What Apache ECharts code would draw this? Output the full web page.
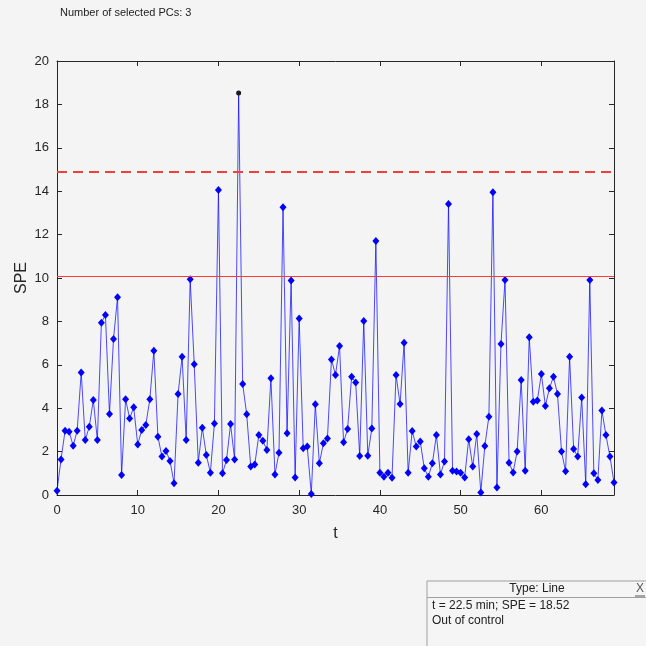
<!DOCTYPE html>
<html>
<head>
<meta charset="utf-8">
<script src="https://cdn.jsdelivr.net/npm/echarts@6/dist/echarts.min.js"></script>
<style>
  html, body { margin: 0; padding: 0; background: #f4f4f4; }
  #main { width: 646px; height: 646px; }
</style>
</head>
<body>
<div id="main"></div>
<script>
// sample spacing in minutes (t = index * step)
var step = 0.5;
var spe = [
    0.2, 1.64, 2.96, 2.92, 2.27, 2.96, 5.65, 2.53, 3.15, 4.38,
    2.53, 7.94, 8.3, 3.73, 7.19, 9.11, 0.92, 4.41, 3.53, 4.04,
    2.33, 3.0, 3.23, 4.41, 6.65, 2.69, 1.77, 2.03, 1.57, 0.54,
    4.65, 6.37, 2.53, 9.94, 6.02, 1.49, 3.1, 1.84, 1.03, 3.3,
    14.06, 1.0, 1.61, 3.27, 1.64, 18.52, 5.12, 3.72, 1.31, 1.40,
    2.76, 2.5, 2.07, 5.38, 0.95, 1.95, 13.26, 2.84, 9.88, 0.81,
    8.13, 2.15, 2.23, 0.05, 4.18, 1.46, 2.38, 2.6, 6.25, 5.53,
    6.87, 2.43, 3.04, 5.45, 5.18, 1.8, 8.02, 1.81, 3.07, 11.7,
    1.03, 0.84, 1.03, 0.8, 5.53, 4.19, 7.02, 1.03, 2.95, 2.23,
    2.46, 1.23, 0.84, 1.46, 2.76, 0.95, 1.54, 13.41, 1.12, 1.08,
    1.03, 0.81, 2.57, 1.31, 2.81, 0.12, 2.26, 3.61, 13.95, 0.34,
    6.96, 9.91, 1.49, 1.04, 2.0, 5.3, 1.12, 7.27, 4.3, 4.35,
    5.58, 4.1, 4.92, 5.45, 4.65, 2.0, 1.1, 6.37, 2.12, 1.77,
    4.49, 0.49, 9.91, 1.0, 0.69, 3.89, 2.76, 1.77, 0.58
];
var limit95 = 10.1;   // solid red
var limit99 = 14.9;   // dashed red
var selectedIndex = 45; // t = 22.5 min
var numPCs = 3;

var font = "'Liberation Sans', Arial, sans-serif";
var axisColor = '#262626';

var data = spe.map(function (v, i) {
    if (i === selectedIndex) {
        return {
            value: [i * step, v],
            symbol: 'circle',
            symbolSize: 5,
            itemStyle: { color: '#1a1a1a' }
        };
    }
    return [i * step, v];
});

// box axis (MATLAB style, ticks pointing inwards)
function boxAxis(extra) {
    var ax = {
        type: 'value',
        axisLine: { show: true, onZero: false, lineStyle: { color: axisColor } },
        axisTick: { show: true, inside: true, length: 5, lineStyle: { color: axisColor } },
        axisLabel: { show: false },
        splitLine: { show: false }
    };
    for (var k in extra) ax[k] = extra[k];
    return ax;
}

var myChart = echarts.init(document.getElementById('main'));
var option = {
    animation: false,
    backgroundColor: '#f4f4f4',
    textStyle: { fontFamily: font },
    grid: { left: 57, right: 32, top: 61, bottom: 151 },
    xAxis: [
        boxAxis({
            min: 0, max: 69, interval: 10, position: 'bottom',
            name: 't', nameLocation: 'middle', nameGap: 31,
            nameTextStyle: { fontSize: 16, color: axisColor, fontFamily: font },
            axisLabel: { show: true, showMaxLabel: false, fontSize: 13, color: axisColor, margin: 9, fontFamily: font }
        }),
        boxAxis({ min: 0, max: 69, interval: 10, position: 'top' })
    ],
    yAxis: [
        boxAxis({
            min: 0, max: 20, interval: 2, position: 'left',
            name: 'SPE', nameLocation: 'middle', nameGap: 27, nameMoveOverlap: false,
            nameTextStyle: { fontSize: 16, color: axisColor, fontFamily: font },
            axisLabel: { show: true, fontSize: 13, color: axisColor, margin: 8, fontFamily: font }
        }),
        boxAxis({ min: 0, max: 20, interval: 2, position: 'right' })
    ],
    series: [
        {
            type: 'line',
            data: data,
            symbol: 'diamond',
            symbolSize: [7, 8],
            itemStyle: { color: '#0000ff' },
            lineStyle: { color: '#0000ff', width: 1, opacity: 0.7 },
            z: 3,
            markLine: {
                silent: true,
                symbol: 'none',
                label: { show: false },
                data: [
                    { yAxis: limit95, lineStyle: { color: '#ff3b3b', width: 1.2, type: 'solid' } },
                    { yAxis: limit99, lineStyle: { color: '#ff3b3b', width: 2, type: [10, 6] } }
                ]
            }
        }
    ],
    graphic: [
        {
            type: 'text', left: 60, top: 7,
            style: { text: 'Number of selected PCs: ' + numPCs, font: '11px ' + font, fill: '#222' }
        },
        {
            type: 'rect',
            shape: { x: 427, y: 581, width: 240, height: 80 },
            style: { fill: '#f5f5f5', stroke: '#a0a0a0', lineWidth: 1 }
        },
        {
            type: 'line',
            shape: { x1: 427, y1: 597.5, x2: 646, y2: 597.5 },
            style: { stroke: '#a0a0a0', lineWidth: 1 }
        },
        {
            type: 'text', x: 537, y: 589,
            style: { text: 'Type: Line', font: '12px ' + font, fill: '#222', align: 'center', verticalAlign: 'middle' }
        },
        {
            type: 'text', x: 640, y: 589,
            style: { text: 'X', font: '12px ' + font, fill: '#555', align: 'center', verticalAlign: 'middle' }
        },
        {
            type: 'line',
            shape: { x1: 635, y1: 596, x2: 645, y2: 596 },
            style: { stroke: '#555', lineWidth: 1 }
        },
        {
            type: 'text', x: 432, y: 606,
            style: { text: 't = 22.5 min; SPE = 18.52', font: '12px ' + font, fill: '#222', verticalAlign: 'middle' }
        },
        {
            type: 'text', x: 432, y: 621,
            style: { text: 'Out of control', font: '12px ' + font, fill: '#222', verticalAlign: 'middle' }
        }
    ]
};
option && myChart.setOption(option);
</script>
</body>
</html>
